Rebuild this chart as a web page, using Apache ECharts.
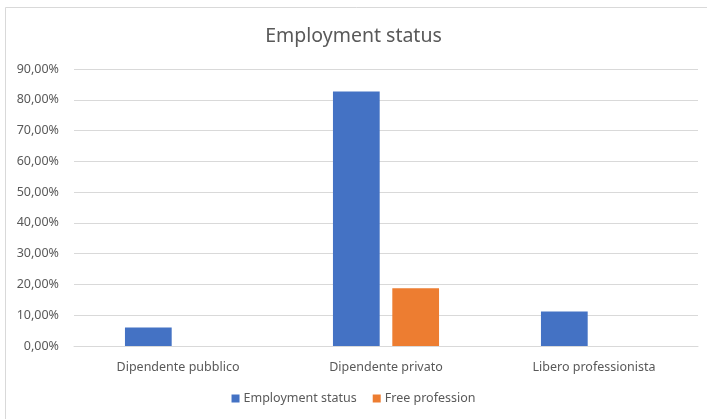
<!DOCTYPE html>
<html>
<head>
<meta charset="utf-8">
<script src="https://cdn.jsdelivr.net/npm/echarts@6/dist/echarts.min.js"></script>
<style>
html,body{margin:0;padding:0;background:#fff;}
#chart{width:707px;height:419px;}
</style>
</head>
<body>
<div id="chart"></div>
<script>
const titleText = "Employment status";
const categories = ["Dipendente pubblico", "Dipendente privato", "Libero professionista"];
const seriesNames = ["Employment status", "Free profession"];
const employmentStatus = [6.0, 82.7, 11.2];
const freeProfession = [null, 18.8, null];
const yTicks = [0, 10, 20, 30, 40, 50, 60, 70, 80, 90];

const chart = echarts.init(document.getElementById('chart'), null, {renderer: 'canvas'});
const font = '"Noto Sans", "Open Sans", sans-serif';
chart.setOption({
  animation: false,
  backgroundColor: '#fff',
  graphic: [{
    type: 'rect',
    shape: {x: 5.5, y: 7.5, width: 720, height: 430},
    style: {fill: 'none', stroke: '#d9d9d9', lineWidth: 1},
    silent: true
  }],
  title: {
    text: titleText,
    left: 'center',
    top: 21,
    textStyle: {fontFamily: font, fontSize: 19.5, fontWeight: 'normal', color: '#595959'}
  },
  legend: {
    data: seriesNames,
    bottom: 9,
    left: 'center',
    itemWidth: 8,
    itemHeight: 8,
    itemGap: 16,
    icon: 'rect',
    textStyle: {fontFamily: font, fontSize: 12.5, color: '#595959', padding: [0,0,0,-1]}
  },
  grid: {left: 74, right: 9, top: 69, bottom: 73, containLabel: false},
  xAxis: {
    type: 'category',
    data: categories,
    axisLine: {lineStyle: {color: '#d9d9d9'}},
    axisTick: {show: false},
    axisLabel: {fontFamily: font, fontSize: 12.5, color: '#595959', margin: 15}
  },
  yAxis: {
    type: 'value',
    min: yTicks[0],
    max: yTicks[yTicks.length - 1],
    interval: 10,
    axisLine: {show: false},
    axisTick: {show: false},
    splitLine: {lineStyle: {color: '#d9d9d9'}},
    axisLabel: {
      fontFamily: font, fontSize: 12.5, color: '#595959', margin: 15,
      formatter: v => v.toFixed(2).replace('.', ',') + '%'
    }
  },
  series: [
    {name: seriesNames[0], type: 'bar', data: employmentStatus,
     itemStyle: {color: '#4472c4'}, barGap: '27%', barCategoryGap: '49%'},
    {name: seriesNames[1], type: 'bar', data: freeProfession,
     itemStyle: {color: '#ed7d31'}}
  ]
});
</script>
</body>
</html>
